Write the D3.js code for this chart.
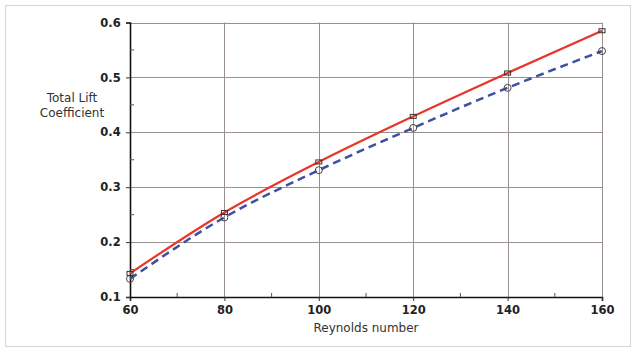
<!DOCTYPE html>
<html>
<head>
<meta charset="utf-8">
<script src="https://cdn.jsdelivr.net/npm/d3@7"></script>
<style>
  body { margin: 0; background: #fff; }
  svg { display: block; font-family: "DejaVu Sans", sans-serif; }
</style>
</head>
<body>
<svg id="chart" width="632" height="349"></svg>
<script>
// Reynolds number vs total lift coefficient
const reynolds = [60, 80, 100, 120, 140, 160];
const liftA = [0.143, 0.254, 0.346, 0.429, 0.508, 0.585];
const liftB = [0.133, 0.245, 0.331, 0.408, 0.481, 0.548];
const xTicks = [60, 80, 100, 120, 140, 160];
const yTicks = [0.1, 0.2, 0.3, 0.4, 0.5, 0.6];

const svg = d3.select("#chart");
const x = d3.scaleLinear().domain([60, 160]).range([130, 602]);
const y = d3.scaleLinear().domain([0.1, 0.6]).range([297, 22.5]);

// outer frame
svg.append("rect")
    .attr("x", 5.5).attr("y", 5.5)
    .attr("width", 625).attr("height", 341)
    .attr("fill", "none")
    .attr("stroke", "#d6d6d6");

// grid
const grid = svg.append("g").attr("stroke", "#9a8f8f").attr("stroke-width", 1);
grid.selectAll("line.h")
    .data(yTicks.slice(1))
    .join("line")
    .attr("x1", x(60)).attr("x2", x(160))
    .attr("y1", d => Math.round(y(d)) + 0.5)
    .attr("y2", d => Math.round(y(d)) + 0.5);
grid.selectAll("line.v")
    .data(xTicks.slice(1))
    .join("line")
    .attr("y1", y(0.6)).attr("y2", y(0.1))
    .attr("x1", d => Math.round(x(d)) + 0.5)
    .attr("x2", d => Math.round(x(d)) + 0.5);

// axes
const xAxis = svg.append("g")
    .attr("transform", `translate(0,${y(0.1)})`)
    .call(d3.axisBottom(x).tickValues(xTicks).tickSize(4).tickFormat(d3.format("d")));
const yAxis = svg.append("g")
    .attr("transform", `translate(${x(60)},0)`)
    .call(d3.axisLeft(y).tickValues(yTicks).tickSize(4).tickFormat(d3.format(".1f")));
[xAxis, yAxis].forEach(a => {
    a.select(".domain").attr("stroke", "#111").attr("stroke-width", 1.6);
    a.selectAll(".tick line").attr("stroke", "#333");
    a.selectAll("text")
        .attr("font-family", "DejaVu Sans, sans-serif")
        .attr("font-weight", "bold")
        .attr("font-size", 11.5)
        .attr("fill", "#222");
});
xAxis.selectAll("text").attr("dy", "0.9em");
yAxis.selectAll("text").attr("dx", "-0.2em");

// minor ticks, inside
const minorX = [70, 90, 110, 130, 150];
svg.append("g").selectAll("line")
    .data(minorX).join("line")
    .attr("x1", d => x(d)).attr("x2", d => x(d))
    .attr("y1", y(0.1)).attr("y2", y(0.1) - 4)
    .attr("stroke", "#555");
const minorY = [0.15, 0.25, 0.35, 0.45, 0.55];
svg.append("g").selectAll("line")
    .data(minorY).join("line")
    .attr("y1", d => y(d)).attr("y2", d => y(d))
    .attr("x1", x(60)).attr("x2", x(60) + 4)
    .attr("stroke", "#555");

// labels
svg.append("text")
    .attr("x", x(110)).attr("y", 332)
    .attr("text-anchor", "middle")
    .attr("font-size", 12).attr("fill", "#333")
    .text("Reynolds number");
const yl = svg.append("text")
    .attr("text-anchor", "middle")
    .attr("font-size", 12).attr("fill", "#333");
yl.append("tspan").attr("x", 72).attr("y", 102).text("Total Lift");
yl.append("tspan").attr("x", 72).attr("y", 117).text("Coefficient");

// series
const ptsA = reynolds.map((r, i) => [r, liftA[i]]);
const ptsB = reynolds.map((r, i) => [r, liftB[i]]);
const line = d3.line().x(d => x(d[0])).y(d => y(d[1])).curve(d3.curveMonotoneX);

svg.append("path")
    .datum(ptsB)
    .attr("d", line)
    .attr("fill", "none")
    .attr("stroke", "#3d4f9f")
    .attr("stroke-width", 2.5)
    .attr("stroke-dasharray", "8,5");
svg.append("path")
    .datum(ptsA)
    .attr("d", line)
    .attr("fill", "none")
    .attr("stroke", "#e8352a")
    .attr("stroke-width", 2.2);

svg.append("g").selectAll("circle")
    .data(ptsB).join("circle")
    .attr("cx", d => x(d[0])).attr("cy", d => y(d[1]))
    .attr("r", 3.5)
    .attr("fill", "none")
    .attr("stroke", "#444")
    .attr("stroke-width", 1);
svg.append("g").selectAll("rect")
    .data(ptsA).join("rect")
    .attr("x", d => x(d[0]) - 3).attr("y", d => y(d[1]) - 2)
    .attr("width", 6).attr("height", 4)
    .attr("fill", "none")
    .attr("stroke", "#333")
    .attr("stroke-width", 1);
</script>
</body>
</html>
